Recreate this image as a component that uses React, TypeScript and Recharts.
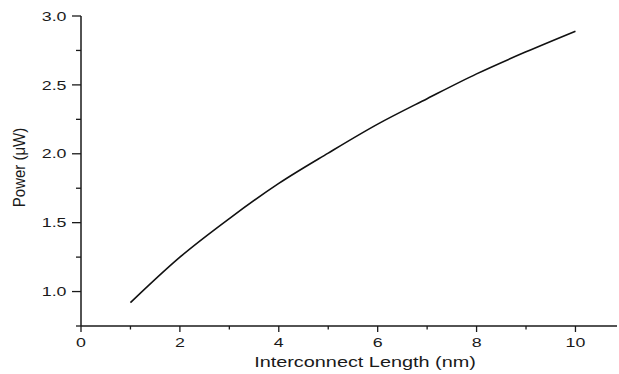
import React from 'react';
import { LineChart, Line, XAxis, YAxis, Label } from 'recharts';

// interconnect length (nm) and power (uW)
const lengths = [1, 2, 3, 4, 5, 6, 7, 8, 9, 10];
const power = [0.92, 1.25, 1.53, 1.785, 2.005, 2.215, 2.4, 2.58, 2.74, 2.89];

const xTicks = [0, 1, 2, 3, 4, 5, 6, 7, 8, 9, 10];
const xLabelled = [0, 2, 4, 6, 8, 10];
const yTicks = [0.75, 1.0, 1.25, 1.5, 1.75, 2.0, 2.25, 2.5, 2.75, 3.0];
const yLabelled = [1.0, 1.5, 2.0, 2.5, 3.0];

const data = lengths.map((len, i) => ({ length: len, power: power[i] }));

const FONT = '"Liberation Sans", Arial, sans-serif';
const INK = '#1a1a1a';
const STRETCH = 1.37; // source picture is stretched horizontally

function XTick(props: any) {
  const { x, y, payload } = props;
  const major = xLabelled.includes(payload.value);
  return (
    <g>
      <line x1={x} x2={x} y1={y} y2={y + (major ? 6 : 3.5)} stroke={INK} strokeWidth={1.3} />
      {major && (
        <g transform={`translate(${x}, ${y + 20.5}) scale(${STRETCH}, 1)`}>
          <text x={0} y={0} textAnchor="middle" fontSize={13} fontFamily={FONT} fill={INK}>
            {payload.value}
          </text>
        </g>
      )}
    </g>
  );
}

function YTick(props: any) {
  const { x, y, payload } = props;
  const major = yLabelled.includes(payload.value);
  return (
    <g>
      <line x1={x - (major ? 9 : 5)} x2={x} y1={y} y2={y} stroke={INK} strokeWidth={1.3} />
      {major && (
        <g transform={`translate(${x - 14.5}, ${y + 4.7}) scale(${STRETCH}, 1)`}>
          <text x={0} y={0} textAnchor="end" fontSize={13} fontFamily={FONT} fill={INK}>
            {payload.value.toFixed(1)}
          </text>
        </g>
      )}
    </g>
  );
}

function XTitle(props: any) {
  const { viewBox } = props;
  return (
    <g transform={`translate(${viewBox.x + 284}, ${viewBox.y + 41}) scale(${STRETCH}, 1)`}>
      <text x={0} y={0} textAnchor="middle" fontSize={14.5} fontFamily={FONT} fill={INK}>
        Interconnect Length (nm)
      </text>
    </g>
  );
}

function YTitle(props: any) {
  const { viewBox } = props;
  const cy = viewBox.y + viewBox.height / 2 - 3.5;
  return (
    <g transform={`translate(25, ${cy}) scale(1.1, 1) rotate(-90)`}>
      <text x={0} y={0} textAnchor="middle" fontSize={15} fontFamily={FONT} fill={INK}>
        Power (μW)
      </text>
    </g>
  );
}

export default function App() {
  return (
    <div style={{ position: 'absolute', left: 0, top: 0, width: 619, height: 374, background: '#fff' }}>
      <LineChart width={619} height={374} data={data} margin={{ top: 16, right: 2, bottom: 0, left: 0 }}>
        <XAxis
          dataKey="length"
          type="number"
          domain={[0, 10.84]}
          ticks={xTicks}
          interval={0}
          allowDataOverflow
          height={48}
          tickSize={0}
          tickMargin={0}
          tickLine={false}
          tick={<XTick />}
          axisLine={{ stroke: INK, strokeWidth: 1.5 }}
        >
          <Label content={<XTitle />} />
        </XAxis>
        <YAxis
          type="number"
          domain={[0.75, 3.0]}
          ticks={yTicks}
          interval={0}
          allowDataOverflow
          width={81}
          tickSize={0}
          tickMargin={0}
          tickLine={false}
          tick={<YTick />}
          axisLine={{ stroke: INK, strokeWidth: 1.5 }}
        >
          <Label content={<YTitle />} />
        </YAxis>
        <Line
          type="monotone"
          dataKey="power"
          stroke="#111"
          strokeWidth={1.6}
          dot={false}
          activeDot={false}
          isAnimationActive={false}
        />
      </LineChart>
    </div>
  );
}
